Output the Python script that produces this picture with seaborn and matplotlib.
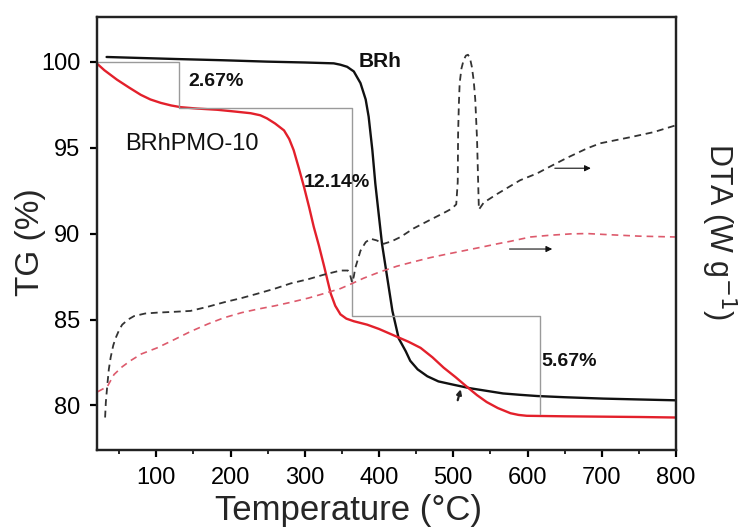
import numpy as np
import pandas as pd
import matplotlib
matplotlib.use("Agg")
import matplotlib.pyplot as plt
import seaborn as sns

# ---- TG curves (mass %, left axis) ----
temp_brh_tg = [33, 80, 128, 190, 249, 300, 339, 348, 357, 366, 375, 382, 386, 391,
               395, 400, 404, 411, 418, 426.5, 436, 442, 452, 465, 480, 501, 523,
               545, 567, 590, 613, 650, 702, 750, 800]
tg_brh = [100.27, 100.21, 100.15, 100.08, 100.0, 99.95, 99.9, 99.82, 99.7, 99.43,
          98.75, 97.8, 96.8, 94.85, 92.9, 90.95, 89.4, 87.45, 85.5, 83.9, 83.15,
          82.6, 82.1, 81.7, 81.4, 81.2, 81.0, 80.85, 80.7, 80.62, 80.55, 80.48,
          80.4, 80.35, 80.3]

temp_pmo_tg = [21, 30, 47, 63, 79, 92, 106, 120, 133, 155, 182, 205, 227, 240, 249,
               260, 272, 279, 285, 292, 299, 306, 312, 319, 326, 331, 335, 341, 348,
               356, 366, 375, 384, 400, 424, 440, 456, 472, 487, 503, 518, 532, 545,
               560, 577, 588, 599, 650, 700, 750, 800]
tg_pmo = [99.85, 99.5, 98.95, 98.5, 98.07, 97.8, 97.6, 97.45, 97.35, 97.27, 97.2,
          97.1, 97.0, 96.88, 96.7, 96.4, 96.0, 95.5, 94.85, 93.8, 92.7, 91.5, 90.4,
          89.3, 88.1, 87.2, 86.5, 85.8, 85.3, 85.05, 84.9, 84.8, 84.7, 84.45, 84.0,
          83.7, 83.35, 82.8, 82.2, 81.65, 81.1, 80.6, 80.2, 79.85, 79.55, 79.45,
          79.4, 79.37, 79.35, 79.33, 79.3]

# ---- DTA curves (right axis, arbitrary scale) ----
temp_brh_dta = [31, 32, 34, 36, 38.5, 42, 45, 50, 54, 62, 70, 85, 101, 125, 146, 170,
                191, 215, 236, 260, 281, 305, 325, 348, 358, 361, 363.7, 366, 368,
                375, 382, 388.5, 397, 406, 417, 429, 446.6, 469, 485, 491.6, 498,
                504, 506, 506.5, 507.5, 508.6, 511, 514, 517, 519.8, 522.5, 525,
                527.5, 529.6, 532, 533.5, 534.5, 537, 541, 559, 590, 613, 626, 653,
                680, 698, 738, 770, 800]
dta_brh = [79.3, 80.2, 81.2, 82.1, 82.8, 83.5, 83.9, 84.4, 84.7, 85.0, 85.2, 85.35,
           85.4, 85.45, 85.5, 85.75, 86.0, 86.25, 86.5, 86.8, 87.1, 87.35, 87.6,
           87.85, 87.85, 87.6, 87.15, 87.5, 88.0, 89.0, 89.5, 89.7, 89.6, 89.4,
           89.55, 89.8, 90.3, 90.8, 91.15, 91.3, 91.45, 91.7, 93.0, 95.8, 97.5,
           98.75, 99.6, 100.1, 100.35, 100.4, 100.2, 99.7, 98.9, 97.8, 95.5, 93.0,
           91.4, 91.55, 91.8, 92.3, 93.1, 93.5, 93.8, 94.4, 94.95, 95.25, 95.6,
           95.9, 96.3]

temp_pmo_dta = [21, 34, 43, 54, 65, 80, 101, 125, 146, 170, 191, 215, 236, 260, 281,
                305, 325, 348, 364, 379, 400, 424, 446, 469, 491, 514, 537, 559, 577,
                604, 630, 658, 680, 702, 750, 800]
dta_pmo = [80.8, 81.1, 81.8, 82.25, 82.6, 83.0, 83.35, 83.85, 84.3, 84.75, 85.1,
           85.4, 85.6, 85.8, 86.0, 86.25, 86.5, 86.8, 87.1, 87.4, 87.75, 88.1, 88.35,
           88.6, 88.8, 89.0, 89.2, 89.4, 89.55, 89.8, 89.9, 89.98, 90.0, 89.95,
           89.85, 89.8]

# ---- mass-loss steps for BRhPMO-10 ----
step_temps = [20, 130, 364, 617]
mass_loss = [2.67, 12.14, 5.67]

x_ticks = [100, 200, 300, 400, 500, 600, 700, 800]
y_ticks = [80, 85, 90, 95, 100]

sns.set_theme(style="ticks")
plt.rcParams["font.family"] = ["Liberation Sans", "DejaVu Sans"]
plt.rcParams["axes.linewidth"] = 1.6

fig = plt.figure(figsize=(7.4, 5.29), dpi=100)
ax = fig.add_axes([0.131, 0.149, 0.7825, 0.819])

red = "#e3202b"
sns.lineplot(x=temp_brh_tg, y=tg_brh, ax=ax, color="#111111", linewidth=1.7,
             estimator=None, sort=False)
sns.lineplot(x=temp_pmo_tg, y=tg_pmo, ax=ax, color=red, linewidth=1.7,
             estimator=None, sort=False)

# staircase marking the successive mass losses
levels = [100.0]
for loss in mass_loss:
    levels.append(levels[-1] - loss)
stair_x = [step_temps[0]]
stair_y = [levels[0]]
for i in range(len(mass_loss)):
    stair_x += [step_temps[i + 1], step_temps[i + 1]]
    stair_y += [levels[i], levels[i + 1]]
sns.lineplot(x=stair_x, y=stair_y, ax=ax, color="#9a9a9a", linewidth=1.0,
             estimator=None, sort=False)

ax.set_xlim(20, 800)
ax.set_ylim(77.4, 102.6)
ax.set_xticks(x_ticks)
ax.set_xticks(np.arange(50, 800, 100), minor=True)
ax.set_yticks(y_ticks)
ax.tick_params(axis="both", which="major", direction="out", length=5, width=1.6,
               labelsize=17, pad=7, colors="black")
ax.tick_params(axis="x", which="minor", direction="out", length=3, width=1.4)
ax.tick_params(top=False, right=False)
ax.set_xlabel("")
ax.set_ylabel("")
for s in ax.spines.values():
    s.set_visible(True)
    s.set_color("#222222")

ax2 = ax.twinx()
ax2.set_ylim(77.4, 102.6)
sns.lineplot(x=temp_brh_dta, y=dta_brh, ax=ax2, color="#333333", linewidth=1.3,
             estimator=None, sort=False, dashes=False, linestyle=(0, (3.8, 2.6)))
sns.lineplot(x=temp_pmo_dta, y=dta_pmo, ax=ax2, color="#dd5a6c", linewidth=1.2,
             estimator=None, sort=False, dashes=False, linestyle=(0, (4.0, 3.0)))
ax2.set_yticks([])
ax2.set_ylabel("")
for s in ax2.spines.values():
    s.set_linewidth(1.6)
    s.set_color("#222222")

# arrows pointing each DTA trace to the right-hand axis
arrow_kw = dict(arrowstyle="-|>", color="#111111", lw=0.8, mutation_scale=9)
ax2.annotate("", xy=(689, 93.8), xytext=(633, 93.8), arrowprops=arrow_kw)
ax2.annotate("", xy=(637, 89.1), xytext=(572, 89.1), arrowprops=arrow_kw)
ax.annotate("", xy=(511, 81.1), xytext=(505, 80.15),
            arrowprops=dict(arrowstyle="-|>", color="#222222", lw=1.6,
                            mutation_scale=7))

# labels
ax.text(372, 100.03, "BRh", fontsize=15, fontweight="bold", ha="left",
        va="center", color="#111111")
ax.text(58, 95.23, "BRhPMO-10", fontsize=17, ha="left", va="center",
        color="#111111")
label_pos = [(143, 98.83), (298, 92.95), (619, 82.57)]
for (tx, ty), loss in zip(label_pos, mass_loss):
    ax.text(tx, ty, f"{loss:.2f}%", fontsize=14, fontweight="bold", ha="left",
            va="center", color="#111111")

ax.text(-0.114, 0.48, "TG (%)", transform=ax.transAxes, rotation=90,
        ha="center", va="center", fontsize=24)
ax.text(0.435, -0.139, "Temperature (\u00b0C)", transform=ax.transAxes,
        ha="center", va="center", fontsize=25)
ax2.text(1.074, 0.506, "DTA (W g$^{-1}$)", transform=ax2.transAxes,
         rotation=270, ha="center", va="center", fontsize=22)

fig.savefig("out.png", dpi=100)
